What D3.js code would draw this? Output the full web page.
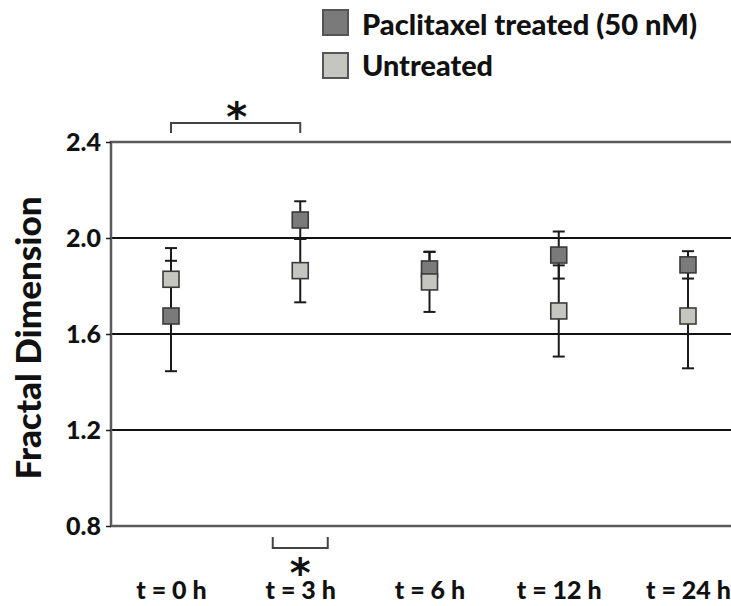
<!DOCTYPE html>
<html><head><meta charset="utf-8">
<script src="https://cdn.jsdelivr.net/npm/d3@7"></script>
<style>body{margin:0;background:#fff}svg{display:block}</style>
</head><body><svg id="c" width="731" height="606"></svg>
<script>
const categories = ["t = 0 h", "t = 3 h", "t = 6 h", "t = 12 h", "t = 24 h"];
const paclitaxelMean = [1.675, 2.075, 1.871, 1.929, 1.888];
const paclitaxelErr  = [0.23, 0.078, 0.072, 0.098, 0.057];
const untreatedMean  = [1.828, 1.864, 1.817, 1.696, 1.675];
const untreatedErr   = [0.13, 0.132, 0.125, 0.19, 0.218];
const yTicks = [0.8, 1.2, 1.6, 2.0, 2.4];
const seriesNames = ["Paclitaxel treated (50 nM)", "Untreated"];
const yTitle = "Fractal Dimension";
const sigMark = "*";

const FONT = "Lato, 'Open Sans', sans-serif";
const DARK = "#7a7a7a", LIGHT = "#c5c6c0", EDGE = "#3a3a3a";

const svg = d3.select("#c");
const pL = 111, pR = 731, pT = 142, pB = 526;
const y = d3.scaleLinear().domain([0.8, 2.4]).range([pB, pT]);
const x = d3.scalePoint().domain(categories).range([171, 688]);

// gridlines
svg.append("g").selectAll("line").data(yTicks.filter(v => v > 0.8 && v < 2.4)).join("line")
  .attr("x1", pL).attr("x2", pR).attr("y1", d => y(d)).attr("y2", d => y(d))
  .attr("stroke", "#111").attr("stroke-width", 2);

// frame
svg.append("path")
  .attr("d", `M${pR},${y(2.4)}H${pL}V${y(0.8)}H${pR}`)
  .attr("fill", "none").attr("stroke", "#5a5a5a").attr("stroke-width", 2.5);

// y axis
const ya = svg.append("g").attr("transform", `translate(${pL},0)`)
  .call(d3.axisLeft(y).tickValues(yTicks).tickFormat(d3.format(".1f")).tickSize(5).tickPadding(5));
ya.select(".domain").remove();
ya.selectAll("line").attr("stroke", "#222").attr("stroke-width", 1.5);
ya.selectAll("text").attr("font-family", FONT).attr("font-weight", 900)
  .attr("font-size", 25).attr("fill", "#111");

// y title
svg.append("text").attr("transform", `translate(41,338) rotate(-90)`)
  .attr("text-anchor", "middle").attr("font-family", FONT).attr("font-weight", 900)
  .attr("font-size", 35).attr("fill", "#111")
  .attr("textLength", 283).attr("lengthAdjust", "spacingAndGlyphs").text(yTitle);

// x labels
const xa = svg.append("g").attr("transform", `translate(0,${pB})`)
  .call(d3.axisBottom(x).tickSize(0).tickPadding(0));
xa.select(".domain").remove();
xa.selectAll("text").attr("font-family", FONT).attr("font-weight", 900)
  .attr("font-size", 25).attr("fill", "#111").attr("dy", null).attr("y", 73);

// error bars
const capW = 12, sq = 16;
function errorBars(means, errs) {
  const g = svg.append("g").attr("stroke", "#1a1a1a").attr("stroke-width", 2);
  means.forEach((m, i) => {
    const cx = x(categories[i]);
    const hi = y(m + errs[i]), lo = y(m - errs[i]);
    g.append("line").attr("x1", cx).attr("x2", cx).attr("y1", hi).attr("y2", lo);
    g.append("line").attr("x1", cx - capW/2).attr("x2", cx + capW/2).attr("y1", hi).attr("y2", hi);
    g.append("line").attr("x1", cx - capW/2).attr("x2", cx + capW/2).attr("y1", lo).attr("y2", lo);
  });
}
errorBars(untreatedMean, untreatedErr);
errorBars(paclitaxelMean, paclitaxelErr);

function squares(means, fill) {
  svg.append("g").selectAll("rect").data(means).join("rect")
    .attr("x", (d, i) => x(categories[i]) - sq/2).attr("y", d => y(d) - sq/2)
    .attr("width", sq).attr("height", sq)
    .attr("fill", fill).attr("stroke", EDGE).attr("stroke-width", 1.6);
}
squares(paclitaxelMean, DARK);
squares(untreatedMean, LIGHT);

// legend
const lg = svg.append("g");
[[DARK, 10, 35, 335], [LIGHT, 53, 76, 131]].forEach(([c, ty, base, len], i) => {
  lg.append("rect").attr("x", 323).attr("y", ty).attr("width", 25).attr("height", 25)
    .attr("fill", c).attr("stroke", "#555").attr("stroke-width", 2);
  lg.append("text").attr("x", 362).attr("y", base).attr("font-family", FONT).attr("font-weight", 900)
    .attr("font-size", 28).attr("fill", "#111")
    .attr("textLength", len).attr("lengthAdjust", "spacingAndGlyphs").text(seriesNames[i]);
});

// significance brackets
const br = svg.append("g").attr("fill", "none").attr("stroke", "#444").attr("stroke-width", 2);
br.append("path").attr("d", `M${x(categories[0])},133V123H${x(categories[1])}V133`);
const c3 = x(categories[1]);
br.append("path").attr("d", `M${c3 - 27.5},537V548H${c3 + 27.5}V537`);

const STAR_FS = 40;
const ctx = document.createElement("canvas").getContext("2d");
ctx.font = `bold ${STAR_FS}px 'DejaVu Sans'`;
const sm = ctx.measureText(sigMark);
const inkMid = (sm.actualBoundingBoxAscent - sm.actualBoundingBoxDescent) / 2;
function star(cx, cy) {
  return svg.append("text").attr("font-family", "DejaVu Sans").attr("font-weight", 700)
    .attr("font-size", STAR_FS).attr("fill", "#111").attr("text-anchor", "middle")
    .attr("x", cx).attr("y", cy + (isFinite(inkMid) && inkMid > 0 ? inkMid : 22)).text(sigMark);
}
star((x(categories[0]) + x(categories[1])) / 2 + 1, 110);
star(c3, 566);
</script></body></html>
